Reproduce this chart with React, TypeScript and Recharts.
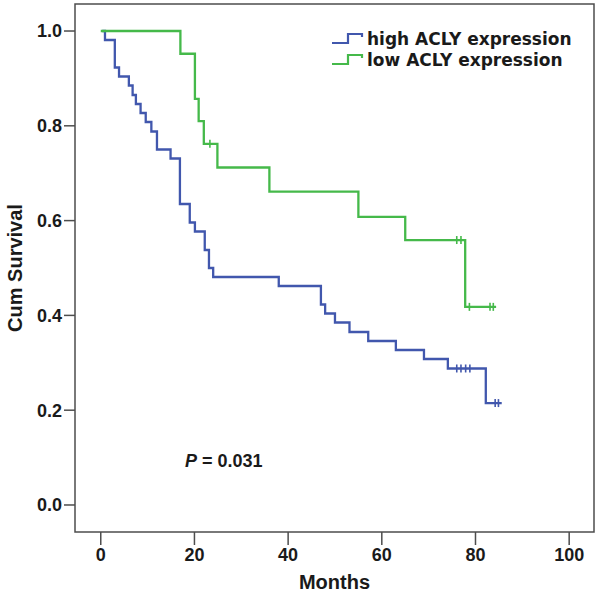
import {
  ComposedChart,
  Legend,
  Line,
  ReferenceArea,
  Scatter,
  XAxis,
  YAxis,
} from "recharts";

// Kaplan-Meier steps
const highMonths = [0.3, 0.9, 3.0, 3.9, 6.0, 6.8, 7.5, 8.5, 9.6, 10.8, 12.0, 14.9, 16.9, 19.0, 20.1, 22.2, 23.1, 24.0, 38.0, 47.0, 47.9, 50.0, 53.1, 57.1, 63.0, 69.0, 74.1, 82.2, 85.6];
const highSurvival = [1, 0.981, 0.923, 0.904, 0.885, 0.865, 0.846, 0.827, 0.808, 0.788, 0.75, 0.731, 0.635, 0.596, 0.577, 0.538, 0.5, 0.481, 0.462, 0.423, 0.404, 0.385, 0.365, 0.346, 0.327, 0.308, 0.288, 0.215, 0.215];
const highCensored = [76.0, 76.9, 77.9, 78.8, 84.2, 84.9];

const lowMonths = [0, 17.0, 20.1, 20.9, 22.0, 24.9, 36.0, 55.0, 65.0, 77.8, 84.4];
const lowSurvival = [1, 0.952, 0.857, 0.81, 0.762, 0.712, 0.661, 0.608, 0.559, 0.418, 0.418];
const lowCensored = [23.3, 76.0, 76.9, 78.7, 83.1, 83.8];

const xTicks = [0, 20, 40, 60, 80, 100];
const yTicks = [0, 0.2, 0.4, 0.6, 0.8, 1.0];
const xDomain: [number, number] = [-5.5, 105.3];
const yDomain: [number, number] = [-0.057, 1.057];

const BLUE = "#4157ad";
const GREEN = "#45b94a";
const TEXT = "#1a1a1a";
const FRAME = "#4d4d4d";

const series = [
  { name: "high ACLY expression", color: BLUE },
  { name: "low ACLY expression", color: GREEN },
];

const toRows = (months: number[], surv: number[]) =>
  months.map((m, i) => ({ month: m, surv: surv[i] }));

const censorRows = (times: number[], months: number[], surv: number[]) =>
  times.map((t) => {
    let idx = 0;
    months.forEach((m, i) => {
      if (m <= t) idx = i;
    });
    return { month: t, surv: surv[idx] };
  });

const highData = toRows(highMonths, highSurvival);
const lowData = toRows(lowMonths, lowSurvival);
const highCens = censorRows(highCensored, highMonths, highSurvival);
const lowCens = censorRows(lowCensored, lowMonths, lowSurvival);

const tickFont = {
  fontFamily: "'Liberation Sans', Arial, sans-serif",
  fontWeight: 700,
  fontSize: 18,
  fill: TEXT,
};

const censorMark = (color: string) => (props: any) => (
  <line
    x1={props.cx}
    x2={props.cx}
    y1={props.cy - 4}
    y2={props.cy + 4}
    stroke={color}
    strokeWidth={1.6}
  />
);

function KmLegend() {
  return (
    <div
      style={{
        fontFamily: "'DejaVu Sans', sans-serif",
        fontWeight: 700,
        fontSize: 17,
        color: TEXT,
        lineHeight: "21px",
      }}
    >
      {series.map((s) => (
        <div key={s.name} style={{ display: "flex", alignItems: "center" }}>
          <svg width={36} height={21} style={{ flex: "none" }}>
            <polyline
              points="1,14 17,14 17,5 31,5 31,8"
              fill="none"
              stroke={s.color}
              strokeWidth={2.2}
            />
          </svg>
          <span>{s.name}</span>
        </div>
      ))}
    </div>
  );
}

export default function App() {
  return (
    <div style={{ position: "absolute", left: 0, top: 0, width: 600, height: 599, background: "#fff" }}>
      <ComposedChart
        width={600}
        height={599}
        margin={{ top: 4, right: 6, bottom: 0, left: 0 }}
      >
        <XAxis
          type="number"
          dataKey="month"
          domain={xDomain}
          ticks={xTicks}
          allowDataOverflow
          height={67}
          axisLine={false}
          tickSize={13}
          tickMargin={3}
          tickLine={{ stroke: FRAME, strokeWidth: 1.5 }}
          tick={tickFont}
          label={{
            value: "Months",
            position: "insideBottom",
            offset: 10,
            style: { ...tickFont, fontSize: 20 },
          }}
        />
        <YAxis
          type="number"
          dataKey="surv"
          domain={yDomain}
          ticks={yTicks}
          allowDataOverflow
          width={75}
          axisLine={false}
          tickSize={11}
          tickMargin={2}
          tickLine={{ stroke: FRAME, strokeWidth: 1.5 }}
          tick={tickFont}
          tickFormatter={(v: number) => v.toFixed(1)}
          label={{
            value: "Cum Survival",
            angle: -90,
            position: "insideLeft",
            offset: 15,
            style: { ...tickFont, fontSize: 20, textAnchor: "middle" },
          }}
        />
        <ReferenceArea
          x1={xDomain[0]}
          x2={xDomain[1]}
          y1={yDomain[0]}
          y2={yDomain[1]}
          fill="none"
          stroke={FRAME}
          strokeWidth={1.5}
          ifOverflow="visible"
        />
        <Line
          data={highData}
          dataKey="surv"
          type="stepAfter"
          stroke={BLUE}
          strokeWidth={2.3}
          dot={false}
          isAnimationActive={false}
          legendType="none"
        />
        <Line
          data={lowData}
          dataKey="surv"
          type="stepAfter"
          stroke={GREEN}
          strokeWidth={2.3}
          dot={false}
          isAnimationActive={false}
          legendType="none"
        />
        <Scatter
          data={highCens}
          dataKey="surv"
          shape={censorMark(BLUE)}
          isAnimationActive={false}
          legendType="none"
        />
        <Scatter
          data={lowCens}
          dataKey="surv"
          shape={censorMark(GREEN)}
          isAnimationActive={false}
          legendType="none"
        />
        <Legend
          layout="vertical"
          align="center"
          verticalAlign="middle"
          content={KmLegend}
          wrapperStyle={{ left: 331, top: 29, width: 265 }}
        />
      </ComposedChart>
      <div
        style={{
          position: "absolute",
          left: 185,
          top: 451,
          fontFamily: "'Liberation Sans', Arial, sans-serif",
          fontWeight: 700,
          fontSize: 18,
          color: TEXT,
          whiteSpace: "nowrap",
        }}
      >
        <i>P</i> = 0.031
      </div>
    </div>
  );
}
